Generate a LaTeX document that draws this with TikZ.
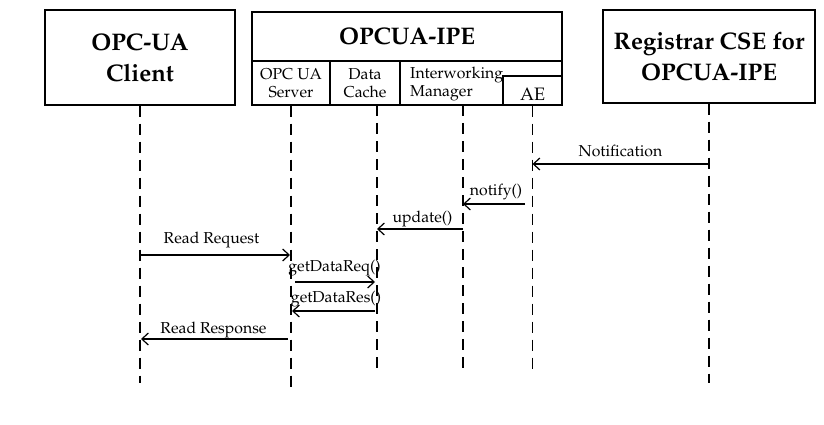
\documentclass[tikz,border=0pt]{standalone}
\usepackage[T1]{fontenc}
\usepackage{mathpazo}
\usetikzlibrary{arrows.meta}
\begin{document}
\begin{tikzpicture}[x=1pt,y=-1pt,
  box/.style={draw,line width=1.3pt,inner sep=0pt,align=center},
  title/.style={font=\fontsize{24}{31}\selectfont\bfseries},
  sub/.style={font=\fontsize{15.8}{18}\selectfont},
  lbl/.style={font=\fontsize{15.8}{18}\selectfont,inner sep=0pt,anchor=base},
  life/.style={line width=1.3pt,dash pattern=on 11pt off 7pt},
  msg/.style={line width=1.2pt,-{Straight Barb[length=6.5pt,width=12pt]}}]
\useasboundingbox (0,0) rectangle (824,425);
% participant boxes
\node[box,title,minimum width=190pt,minimum height=95pt] (client) at (140,57.5) {OPC-UA\\Client};
\node[box,title,minimum width=212pt,minimum height=93pt] (reg) at (709,56.5) {Registrar CSE for\\OPCUA-IPE};
\node[box,title,minimum width=310pt,minimum height=49pt] (ipe) at (407,36.5) {OPCUA-IPE};
\node[box,sub,minimum width=78pt,minimum height=44pt] (srv) at (291,83) {OPC UA\\Server};
\node[box,sub,minimum width=70pt,minimum height=44pt] (cache) at (365,83) {Data\\Cache};
\node[box,minimum width=162pt,minimum height=44pt] (im) at (481,83) {};
\node[sub,inner sep=0pt,align=left,anchor=west] (imtxt) at (410,84) {Interworking\\Manager};
\node[box,minimum width=59pt,minimum height=29pt] (ae) at (532.5,90.5) {};
\node[inner sep=0pt,font=\fontsize{18}{20}\selectfont] (aetxt) at (532.5,94) {AE};
% lifelines
\coordinate (clB) at (140,383);
\coordinate (srvB) at (291,389);
\coordinate (cacheT) at (377,105);
\coordinate (cacheB) at (377,372);
\coordinate (imT) at (463,105);
\coordinate (imB) at (463,372);
\coordinate (aeB) at (532.5,372);
\coordinate (regB) at (709,383);
\draw[life] (client.south) -- (clB);
\draw[life] (srv.south) -- (srvB);
\draw[life] (cacheT) -- (cacheB);
\draw[life] (imT) -- (imB);
\draw[life] (ae.south) -- (aeB);
\draw[life] (reg.south) -- (regB);
% messages
\coordinate (n1a) at (709,164); \coordinate (n1b) at (532.5,164);
\draw[msg] (n1a) -- (n1b);
\node[lbl] (l1) at (620.5,156.5) {Notification};
\coordinate (n2a) at (525,204); \coordinate (n2b) at (463,204);
\draw[msg] (n2a) -- (n2b);
\node[lbl] (l2) at (496,195) {notify()};
\coordinate (n3a) at (463,229); \coordinate (n3b) at (377,229);
\draw[msg] (n3a) -- (n3b);
\node[lbl] (l3) at (422.5,222.5) {update()};
\coordinate (n4a) at (140,255); \coordinate (n4b) at (290,255);
\draw[msg] (n4a) -- (n4b);
\node[lbl] (l4) at (211.5,243) {Read Request};
\coordinate (n5a) at (295,282); \coordinate (n5b) at (375,282);
\draw[msg] (n5a) -- (n5b);
\node[lbl] (l5) at (334.5,271.5) {getDataReq()};
\coordinate (n6a) at (375,311); \coordinate (n6b) at (292,311);
\draw[msg] (n6a) -- (n6b);
\node[lbl] (l6) at (336,302) {getDataRes()};
\coordinate (n7a) at (288,339); \coordinate (n7b) at (141,339);
\draw[msg] (n7a) -- (n7b);
\node[lbl] (l7) at (213.5,333) {Read Response};
\end{tikzpicture}
\end{document}
